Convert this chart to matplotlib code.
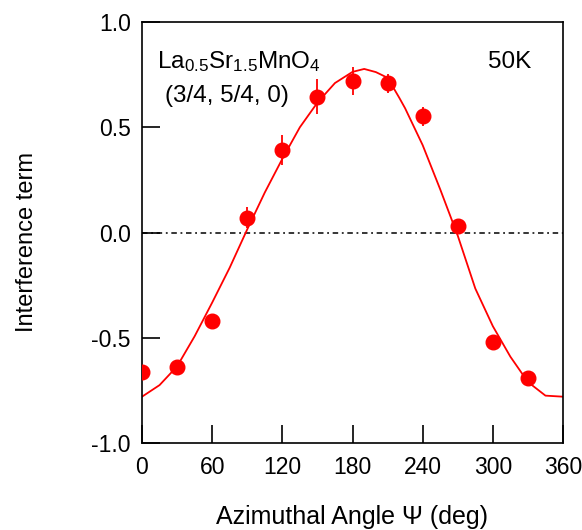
import matplotlib
matplotlib.use("Agg")
import matplotlib.pyplot as plt

plt.rcParams['font.family'] = ['Liberation Sans', 'DejaVu Sans']
plt.rcParams['mathtext.fontset'] = 'custom'
plt.rcParams['mathtext.rm'] = 'Liberation Sans'
plt.rcParams['mathtext.it'] = 'Liberation Sans:italic'

# measured data
psi = [0, 30, 60, 90, 120, 150, 180, 210, 240, 270, 300, 330]
interference = [-0.665, -0.638, -0.422, 0.07, 0.392, 0.646, 0.72, 0.708, 0.553, 0.033, -0.52, -0.69]
err = [0.02, 0.02, 0.02, 0.05, 0.07, 0.085, 0.068, 0.045, 0.045, 0.02, 0.02, 0.02]

# calculated curve
curve_psi = [0, 15, 30, 45, 60, 75, 90, 105, 120, 135, 150, 165, 180, 190,
             200, 210, 220, 225, 240, 255, 270, 285, 300, 315, 330, 345, 360]
curve_val = [-0.78, -0.725, -0.636, -0.493, -0.333, -0.167, 0.015, 0.19, 0.35, 0.50,
             0.617, 0.71, 0.763, 0.777, 0.762, 0.735, 0.64, 0.59, 0.415, 0.205,
             -0.015, -0.266, -0.445, -0.59, -0.71, -0.775, -0.78]

xticks = [0, 60, 120, 180, 240, 300, 360]
yticks = [-1.0, -0.5, 0.0, 0.5, 1.0]

fig = plt.figure(figsize=(5.82, 5.30), dpi=100)
ax = fig.add_axes([142/582, 1-443/530, (563-142)/582, (443-22)/530])

ax.axhline(0, color='black', lw=1.1, dashes=(3.6, 2.4, 1.2, 2.4))
ax.plot(curve_psi, curve_val, color='#ff0000', lw=1.3)
ax.errorbar(psi, interference, yerr=err, fmt='o', color='#ff0000', ms=10.5,
            elinewidth=1.3, capsize=0, zorder=3)

ax.set_xlim(0, 360)
ax.set_ylim(-1.0, 1.0)
ax.set_xticks(xticks)
ax.set_yticks(yticks)
ax.set_yticklabels([f"{v:.1f}" for v in yticks])
ax.tick_params(axis='both', direction='in', length=13, width=1.2, labelsize=16.5)
ax.tick_params(axis='x', pad=9)
ax.tick_params(axis='y', pad=8)
for s in ax.spines.values():
    s.set_linewidth(1.2)

ax.set_xlabel('Azimuthal Angle Ψ (deg)', fontsize=18, labelpad=19)
ax.set_ylabel('Interference term', fontsize=17)
ax.yaxis.set_label_coords(-0.247, 0.477)

ax.text(12.5, 0.781, r'La$_{0.5}$Sr$_{1.5}$MnO$_4$', fontsize=17.5, va='baseline', ha='left')
ax.text(19.7, 0.621, '(3/4, 5/4, 0)', fontsize=17.5, va='baseline', ha='left')
ax.text(296, 0.783, '50K', fontsize=17.5, va='baseline', ha='left')

fig.savefig('out.png', dpi=100)
